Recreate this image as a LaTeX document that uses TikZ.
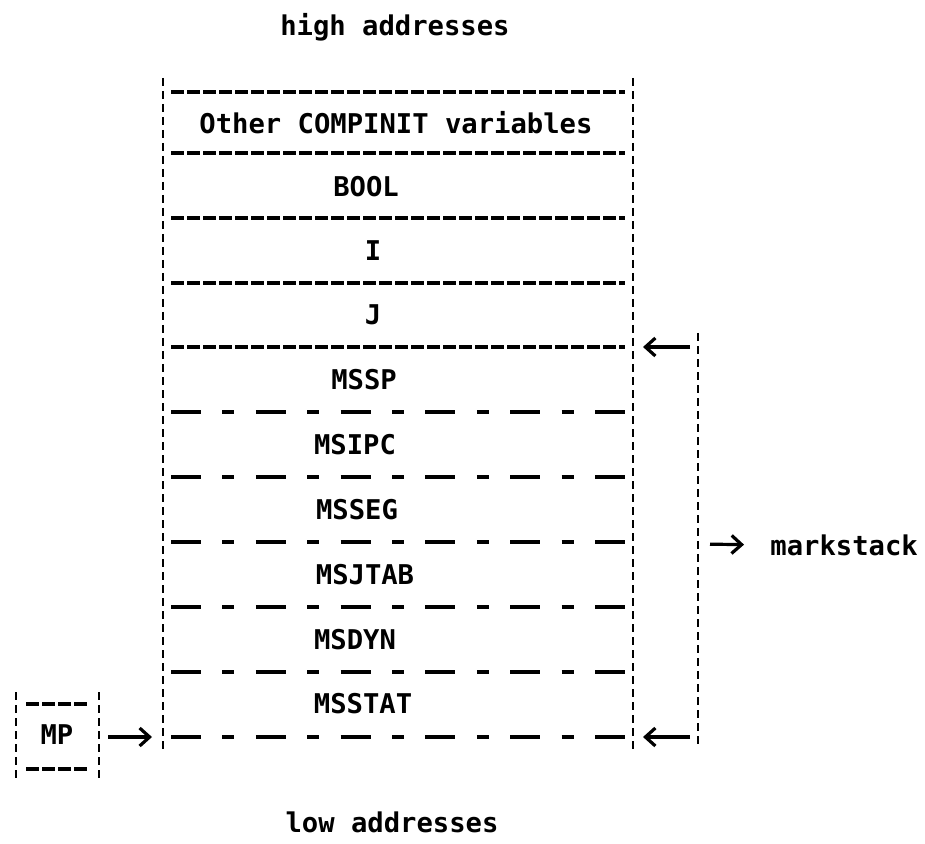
\documentclass[tikz,border=0pt]{standalone}
\usepackage{fontspec}
\setmonofont{DejaVu Sans Mono}
\usetikzlibrary{arrows.meta}
\tikzset{
  vline/.style={line width=1.2pt, dash pattern=on 4pt off 2.5pt},
  denserule/.style={line width=2pt, dash pattern=on 6.5pt off 1.5pt},
  sparserule/.style={line width=2pt, dash pattern=on 15pt off 10.7pt on 6pt off 10.7pt},
  arr/.style={line width=1.6pt, -{Straight Barb[length=5pt,width=9pt]}},
  lbl/.style={inner sep=0pt, font=\ttfamily\bfseries\fontsize{13.6}{16}\selectfont},
}

\begin{document}
\begin{tikzpicture}[x=0.5pt, y=-0.5pt]
		%%%%% START %%%%%
		\useasboundingbox (0,0) rectangle (925,844);
		
		\node[lbl] (high) at (395,27) {high addresses};
		\node[lbl] (low) at (392,822) {low addresses};
		
		% the stack
		\coordinate (topL) at (163,347);
		\coordinate (topR) at (633,347);
		\coordinate (botL) at (163,737);
		\coordinate (botR) at (633,737);
		\draw[vline] (163,78) -- (163,750);
		\draw[vline] (633,78) -- (633,750);
		\foreach \y in {92,153,218,283,347}
			\draw[denserule] (171,\y) -- (625,\y);
		\foreach \y in {412,477,542,607,672,737}
			\draw[sparserule] (171,\y) -- (625,\y);
		
		\node[lbl] (other) at (396,123) {Other COMPINIT variables};
		\node[lbl] (bool) at (366,187) {BOOL};
		\node[lbl] (vari) at (373,251) {I};
		\node[lbl] (varj) at (373,315) {J};
		\node[lbl] (mssp) at (364,380) {MSSP};
		\node[lbl] (msipc) at (355,445) {MSIPC};
		\node[lbl] (msseg) at (357,510) {MSSEG};
		\node[lbl] (msjtab) at (365,575) {MSJTAB};
		\node[lbl] (msdyn) at (355,640) {MSDYN};
		\node[lbl] (msstat) at (363,704) {MSSTAT};
		
		% MP
		\draw[vline] (16,692) -- (16,780);
		\draw[vline] (99,692) -- (99,780);
		\draw[denserule] (26,704) -- (90,704);
		\draw[denserule] (26,769) -- (90,769);
		\node[lbl] (mp) at (57,735) {MP};
		\coordinate (mpR) at (99,737);
		\draw[arr, shorten <=4.5pt, shorten >=5.5pt] (mpR) -- (botL);
		
		% markstack bracket
		\coordinate (brT) at (698,347);
		\coordinate (brB) at (698,737);
		\coordinate (brM) at (698,544);
		\draw[vline] (698,333) -- (698,745);
		\draw[arr, shorten <=4pt, shorten >=5pt] (brT) -- (topR);
		\draw[arr, shorten <=4pt, shorten >=5pt] (brB) -- (botR);
		\node[lbl, anchor=west] (mark) at (770,545) {markstack};
		\draw[arr, shorten <=6pt, shorten >=13pt] (brM) -- (mark.west);
		
		%%%%% END %%%%%
\end{tikzpicture}
\end{document}
